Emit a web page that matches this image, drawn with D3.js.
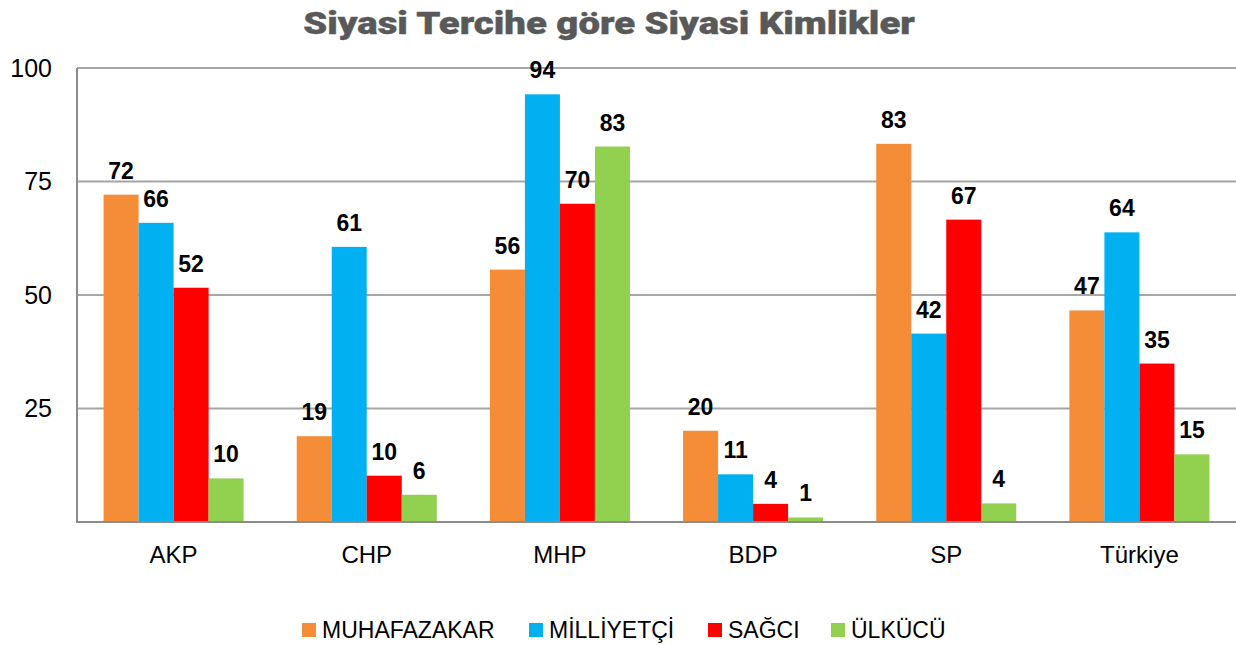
<!DOCTYPE html>
<html lang="tr">
<head>
<meta charset="UTF-8">
<script src="https://d3js.org/d3.v7.min.js"></script>
<title>Siyasi Tercihe göre Siyasi Kimlikler</title>
<style>
  body { margin: 0; background: #fff; }
</style>
</head>
<body>
<div id="draw_here"></div>
<script>
    var categories = ["AKP", "CHP", "MHP", "BDP", "SP", "Türkiye"];
    var seriesNames = ["MUHAFAZAKAR", "MİLLİYETÇİ", "SAĞCI", "ÜLKÜCÜ"];
    var muhafazakar = [72.1, 18.9, 55.6, 20.1, 83.3, 46.6];
    var milliyetci = [65.9, 60.6, 94.2, 10.5, 41.5, 63.8];
    var sagci = [51.6, 10.2, 70.1, 4.0, 66.6, 34.9];
    var ulkucu = [9.6, 6.0, 82.7, 1.0, 4.1, 14.9];
    var yTicks = [25, 50, 75, 100];
    var colors = ["#F58D38", "#00B0F0", "#FF0000", "#92D050"];

    var width = 1236, height = 645;
    var margin = {top: 68, right: 0, bottom: 123, left: 77};
    var series = [muhafazakar, milliyetci, sagci, ulkucu];
    var font = "'Liberation Sans', Arial, sans-serif";

    var svg = d3.select("#draw_here")
        .append("svg")
        .attr("width", width)
        .attr("height", height);

    var x = d3.scaleBand()
        .domain(categories)
        .range([margin.left, width - margin.right])
        .paddingInner(0.275)
        .paddingOuter(0.1375);

    var xs = d3.scaleBand()
        .domain(d3.range(seriesNames.length))
        .range([0, x.bandwidth()]);

    var y = d3.scaleLinear()
        .domain([0, 100])
        .range([height - margin.bottom, margin.top]);

    // title - heavy font, stretched to the width of the original
    var title = svg.append("text")
        .attr("text-anchor", "middle")
        .attr("font-family", "Roboto, 'Liberation Sans', sans-serif")
        .attr("font-weight", 900)
        .attr("font-size", 32)
        .attr("fill", "#595959")
        .attr("stroke", "#595959")
        .attr("stroke-width", 0.4)
        .text("Siyasi Tercihe göre Siyasi Kimlikler");
    var tl = title.node().getComputedTextLength();
    title.attr("transform", `translate(609,34) scale(${612 / tl},1)`);

    // gridlines
    svg.append("g")
        .selectAll("line")
        .data(yTicks)
        .join("line")
        .attr("x1", margin.left)
        .attr("x2", width - margin.right)
        .attr("y1", d => y(d))
        .attr("y2", d => y(d))
        .attr("stroke", "#A6A6A6")
        .attr("stroke-width", 2);

    // y tick labels
    svg.append("g")
        .selectAll("text")
        .data(yTicks)
        .join("text")
        .attr("x", 52)
        .attr("y", d => y(d))
        .attr("dy", "0.35em")
        .attr("text-anchor", "end")
        .attr("font-family", font)
        .attr("font-size", 25)
        .attr("fill", "#000")
        .text(d => d);

    // bars
    var groups = svg.append("g")
        .selectAll("g")
        .data(series)
        .join("g")
        .attr("fill", (d, i) => colors[i]);

    groups.each(function(vals, si) {
        var g = d3.select(this);
        g.selectAll("rect")
            .data(vals)
            .join("rect")
            .attr("x", (d, i) => x(categories[i]) + xs(si))
            .attr("y", d => y(d))
            .attr("width", xs.bandwidth())
            .attr("height", d => y(0) - y(d));
        g.selectAll("text")
            .data(vals)
            .join("text")
            .attr("x", (d, i) => x(categories[i]) + xs(si) + xs.bandwidth() / 2)
            .attr("y", d => y(d) - 16)
            .attr("text-anchor", "middle")
            .attr("font-family", font)
            .attr("font-weight", "bold")
            .attr("font-size", 23)
            .attr("fill", "#000")
            .text(d => Math.round(d));
    });

    // axes lines
    svg.append("line")
        .attr("x1", margin.left).attr("x2", margin.left)
        .attr("y1", y(100)).attr("y2", y(0) + 1)
        .attr("stroke", "#8C8C8C").attr("stroke-width", 2);
    svg.append("line")
        .attr("x1", margin.left).attr("x2", width - margin.right)
        .attr("y1", y(0)).attr("y2", y(0))
        .attr("stroke", "#8C8C8C").attr("stroke-width", 2);

    // category labels
    svg.append("g")
        .selectAll("text")
        .data(categories)
        .join("text")
        .attr("x", d => x(d) + x.bandwidth() / 2)
        .attr("y", 563)
        .attr("text-anchor", "middle")
        .attr("font-family", font)
        .attr("font-size", 24)
        .attr("fill", "#000")
        .text(d => d);

    // legend
    var legendX = [302, 529, 708, 831];
    var legend = svg.append("g")
        .selectAll("g")
        .data(seriesNames)
        .join("g")
        .attr("transform", (d, i) => `translate(${legendX[i]},630)`);
    legend.append("rect")
        .attr("x", 0).attr("y", -7)
        .attr("width", 14).attr("height", 14)
        .attr("fill", (d, i) => colors[i]);
    legend.append("text")
        .attr("x", 20)
        .attr("y", 0)
        .attr("dy", "0.36em")
        .attr("font-family", font)
        .attr("font-size", 23)
        .attr("fill", "#000")
        .text(d => d);
</script>
</body>
</html>
